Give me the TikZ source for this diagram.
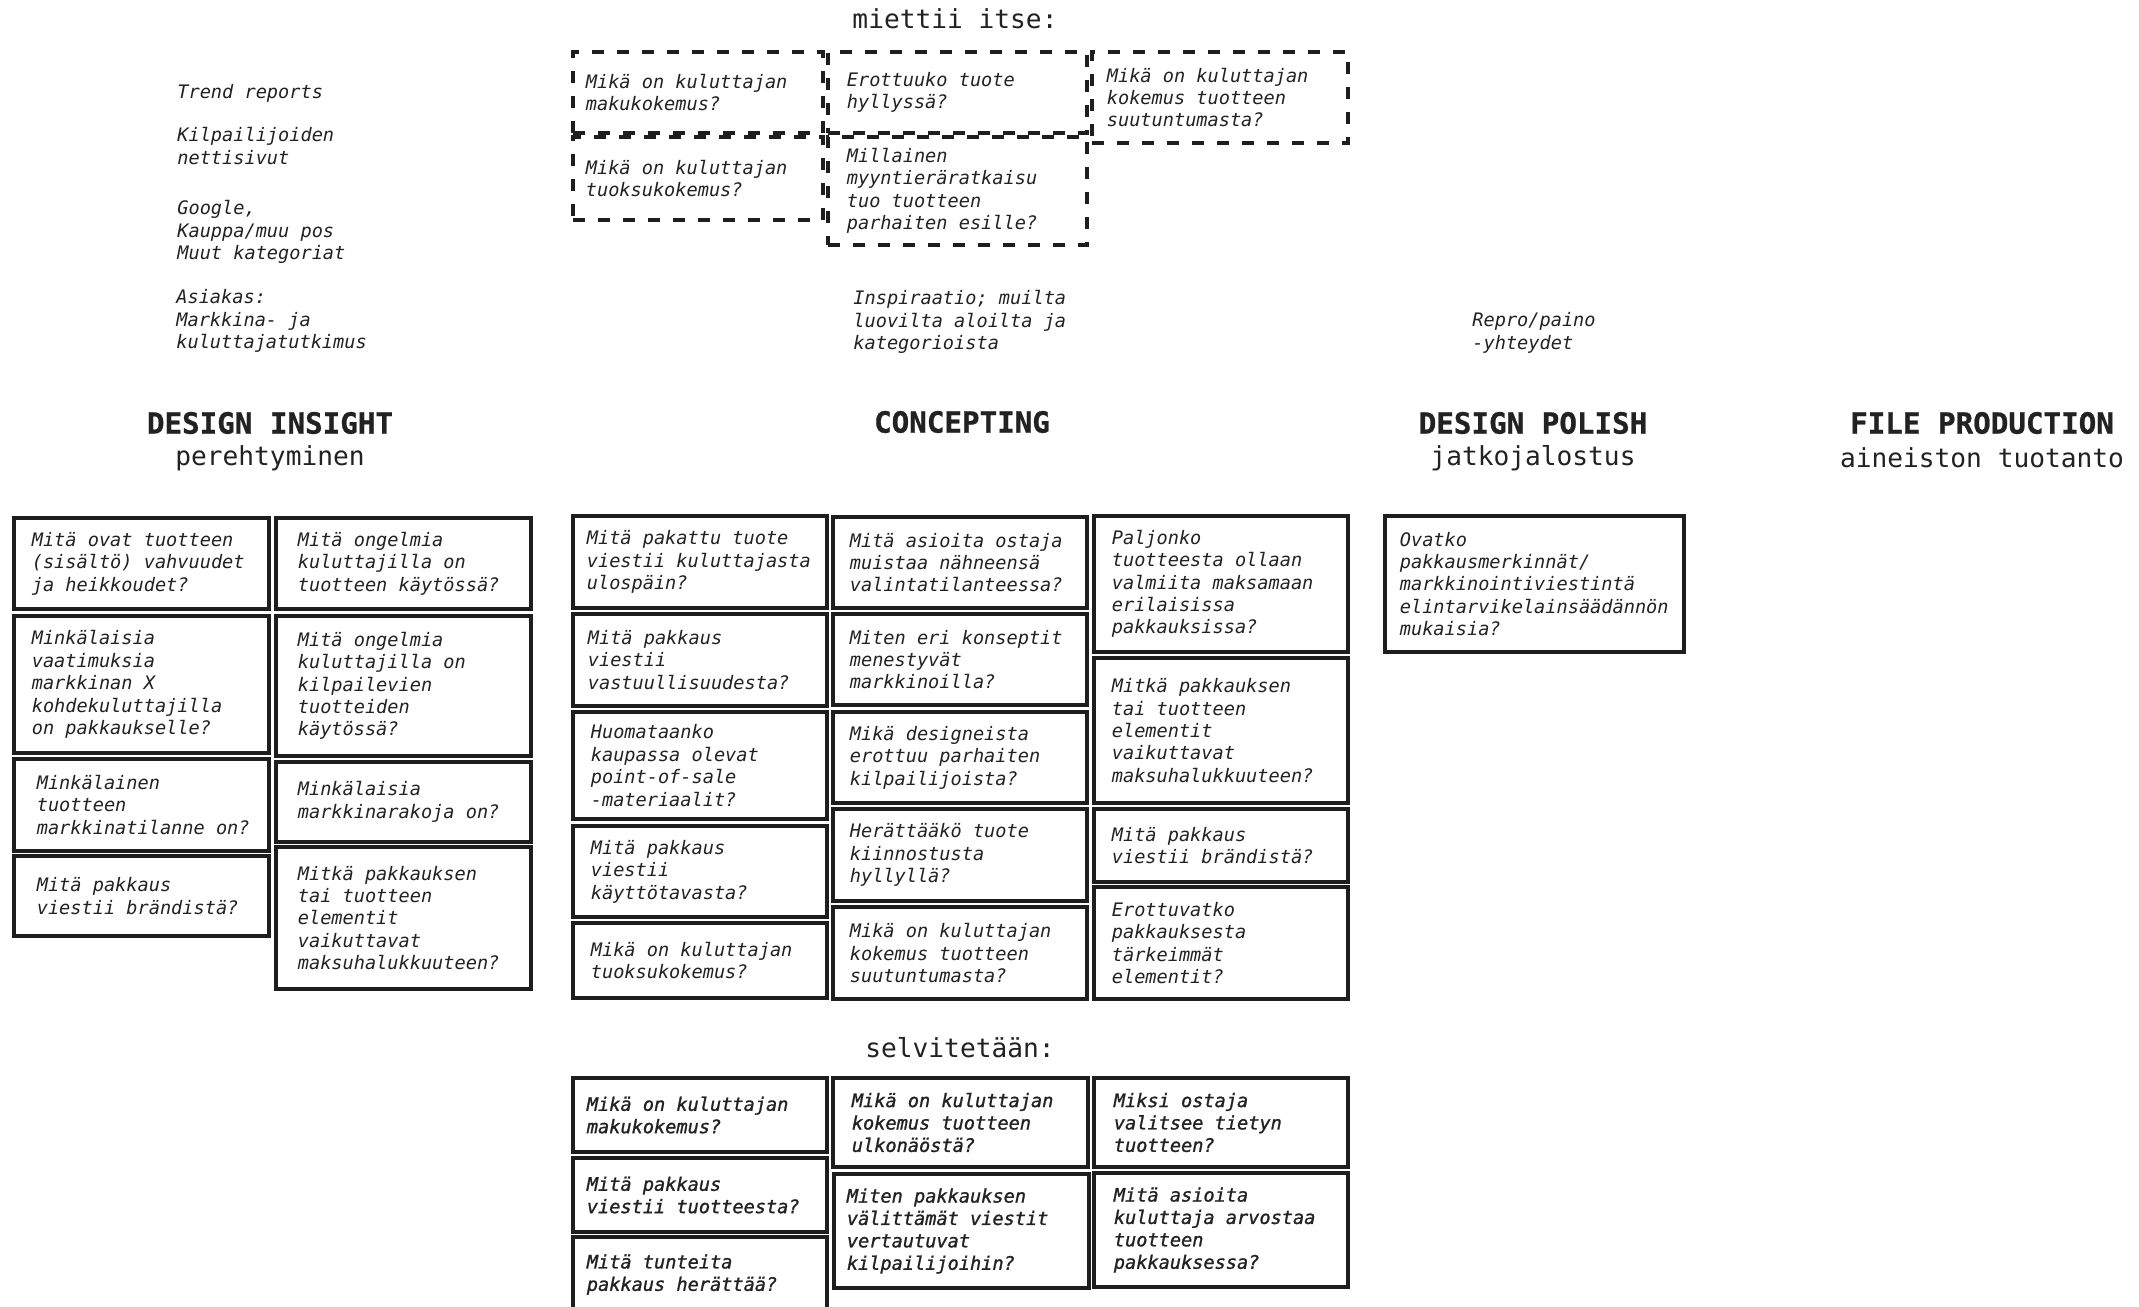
\documentclass[tikz,border=0pt]{standalone}
\usepackage{fontspec}
\newfontfamily\cardfont{DejaVu Sans Mono}
\newfontfamily\cardfontheavy[FakeBold=1.2]{DejaVu Sans Mono}
\newfontfamily\phasefont[FakeBold=0.8]{DejaVu Sans Mono}
\definecolor{cardline}{HTML}{1E1E1E}
\definecolor{inktext}{HTML}{222222}

\tikzset{
  solidcard/.style={draw=cardline, line width=1.55pt, inner sep=0pt, fill=none},
  solidcardtxt/.style={text=inktext, align=left, inner sep=0pt,
    font=\cardfont\itshape\fontsize{9.3pt}{11.2pt}\selectfont},
  dashcard/.style={solidcard, dash pattern=on 6pt off 6.5pt},
  dashcardtxt/.style={solidcardtxt},
  heavycard/.style={solidcard},
  heavycardtxt/.style={solidcardtxt,
    font=\cardfontheavy\itshape\fontsize{9.3pt}{11.2pt}\selectfont},
  note/.style={solidcardtxt, anchor=west},
  phase/.style={text=inktext, inner sep=0pt,
    font=\phasefont\bfseries\fontsize{14.6pt}{16pt}\selectfont},
  phasesub/.style={text=inktext, inner sep=0pt,
    font=\cardfont\fontsize{13.1pt}{15pt}\selectfont},
}

% #1 style, #2 name, #3 x1, #4 y1, #5 x2, #6 y2, #7 left padding, #8 text
\newcommand\card[8]{%
  \node[#1, minimum width={(#5-#3)*0.5pt}, minimum height={(#6-#4)*0.5pt}]
    (#2) at ({(#3+#5)/2},{(#4+#6)/2}) {};
  \node[#1txt, anchor=west] (#2-t) at ([xshift={#7*0.5pt}]#2.west) {#8};
}

\begin{document}
\begin{tikzpicture}[x=0.5pt, y=-0.5pt]
\useasboundingbox (0,0) rectangle (2139,1306);
\fill[white] (0,0) rectangle (2139,1306);
\clip (0,0) rectangle (2139,1306);

% ---------- sources ----------
\node[note] (src-trend) at (177,93) {Trend reports};
\node[note] (src-web) at (177,146) {Kilpailijoiden\\nettisivut};
\node[note] (src-google) at (177,232) {Google,\\Kauppa/muu pos\\Muut kategoriat};
\node[note] (src-client) at (176,321) {Asiakas:\\Markkina- ja\\kuluttajatutkimus};
\node[note] (src-insp) at (853,322) {Inspiraatio; muilta\\luovilta aloilta ja\\kategorioista};
\node[note] (src-repro) at (1472,333) {Repro/paino\\-yhteydet};

% ---------- phase headings ----------
\node[phase] (ph-insight) at (270,423) {DESIGN INSIGHT};
\node[phasesub] (ph-insight-s) at (270,458) {perehtyminen};
\node[phase] (ph-concept) at (962,422) {CONCEPTING};
\node[phase] (ph-polish) at (1533,423) {DESIGN POLISH};
\node[phasesub] (ph-polish-s) at (1533,458) {jatkojalostus};
\node[phase] (ph-file) at (1982,423) {FILE PRODUCTION};
\node[phasesub] (ph-file-s) at (1982,458) {aineiston tuotanto};

\node[phasesub] (own-title) at (955,19) {miettii itse:};
\node[phasesub] (find-title) at (960,1048) {selvitetään:};

% ---------- own thinking (dashed) ----------
\card{dashcard}{da}{573}{52}{823}{133}{14}{Mikä on kuluttajan\\makukokemus?}
\card{dashcard}{db}{828}{52}{1087}{133}{20}{Erottuuko tuote\\hyllyssä?}
\card{dashcard}{dc}{1092}{52}{1348}{143}{16}{Mikä on kuluttajan\\kokemus tuotteen\\suutuntumasta?}
\card{dashcard}{dd}{573}{137}{823}{220}{14}{Mikä on kuluttajan\\tuoksukokemus?}
\card{dashcard}{de}{828}{137}{1087}{245}{20}{Millainen\\myyntieräratkaisu\\tuo tuotteen\\parhaiten esille?}

% ---------- design insight ----------
\card{solidcard}{l1a}{14}{518}{269}{609}{19}{Mitä ovat tuotteen\\(sisältö) vahvuudet\\ja heikkoudet?}
\card{solidcard}{l1b}{14}{616}{269}{753}{19}{Minkälaisia\\vaatimuksia\\markkinan X\\kohdekuluttajilla\\on pakkaukselle?}
\card{solidcard}{l1c}{14}{759}{269}{851}{24}{Minkälainen\\tuotteen\\markkinatilanne on?}
\card{solidcard}{l1d}{14}{856}{269}{936}{24}{Mitä pakkaus\\viestii brändistä?}
\card{solidcard}{l2a}{276}{518}{531}{609}{23}{Mitä ongelmia\\kuluttajilla on\\tuotteen käytössä?}
\card{solidcard}{l2b}{276}{616}{531}{756}{23}{Mitä ongelmia\\kuluttajilla on\\kilpailevien\\tuotteiden\\käytössä?}
\card{solidcard}{l2c}{276}{762}{531}{842}{23}{Minkälaisia\\markkinarakoja on?}
\card{solidcard}{l2d}{276}{847}{531}{989}{23}{Mitkä pakkauksen\\tai tuotteen\\elementit\\vaikuttavat\\maksuhalukkuuteen?}

% ---------- concepting ----------
\card{solidcard}{c1a}{573}{516}{827}{608}{15}{Mitä pakattu tuote\\viestii kuluttajasta\\ulospäin?}
\card{solidcard}{c1b}{573}{614}{827}{706}{16}{Mitä pakkaus\\viestii\\vastuullisuudesta?}
\card{solidcard}{c1c}{573}{712}{827}{819}{19}{Huomataanko\\kaupassa olevat\\point-of-sale\\-materiaalit?}
\card{solidcard}{c1d}{573}{826}{827}{917}{19}{Mitä pakkaus\\viestii\\käyttötavasta?}
\card{solidcard}{c1e}{573}{923}{827}{998}{19}{Mikä on kuluttajan\\tuoksukokemus?}
\card{solidcard}{c2a}{833}{517}{1087}{608}{18}{Mitä asioita ostaja\\muistaa nähneensä\\valintatilanteessa?}
\card{solidcard}{c2b}{833}{614}{1087}{705}{18}{Miten eri konseptit\\menestyvät\\markkinoilla?}
\card{solidcard}{c2c}{833}{712}{1087}{803}{18}{Mikä designeista\\erottuu parhaiten\\kilpailijoista?}
\card{solidcard}{c2d}{833}{809}{1087}{901}{18}{Herättääkö tuote\\kiinnostusta\\hyllyllä?}
\card{solidcard}{c2e}{833}{907}{1087}{999}{18}{Mikä on kuluttajan\\kokemus tuotteen\\suutuntumasta?}
\card{solidcard}{c3a}{1094}{516}{1348}{652}{19}{Paljonko\\tuotteesta ollaan\\valmiita maksamaan\\erilaisissa\\pakkauksissa?}
\card{solidcard}{c3b}{1094}{658}{1348}{803}{19}{Mitkä pakkauksen\\tai tuotteen\\elementit\\vaikuttavat\\maksuhalukkuuteen?}
\card{solidcard}{c3c}{1094}{809}{1348}{882}{19}{Mitä pakkaus\\viestii brändistä?}
\card{solidcard}{c3d}{1094}{887}{1348}{999}{19}{Erottuvatko\\pakkauksesta\\tärkeimmät\\elementit?}

% ---------- design polish ----------
\card{solidcard}{p1}{1385}{516}{1684}{652}{16}{Ovatko\\pakkausmerkinnät/\\markkinointiviestintä\\elintarvikelainsäädännön\\mukaisia?}

% ---------- to be found out ----------
\card{heavycard}{s1a}{573}{1078}{827}{1152}{15}{Mikä on kuluttajan\\makukokemus?}
\card{heavycard}{s1b}{573}{1158}{827}{1232}{15}{Mitä pakkaus\\viestii tuotteesta?}
\card{heavycard}{s1c}{573}{1237}{827}{1312}{15}{Mitä tunteita\\pakkaus herättää?}
\card{heavycard}{s2a}{833}{1078}{1088}{1167}{20}{Mikä on kuluttajan\\kokemus tuotteen\\ulkonäöstä?}
\card{heavycard}{s2b}{834}{1174}{1089}{1288}{14}{Miten pakkauksen\\välittämät viestit\\vertautuvat\\kilpailijoihin?}
\card{heavycard}{s3a}{1094}{1078}{1348}{1167}{21}{Miksi ostaja\\valitsee tietyn\\tuotteen?}
\card{heavycard}{s3b}{1094}{1173}{1348}{1287}{21}{Mitä asioita\\kuluttaja arvostaa\\tuotteen\\pakkauksessa?}
\end{tikzpicture}
\end{document}
